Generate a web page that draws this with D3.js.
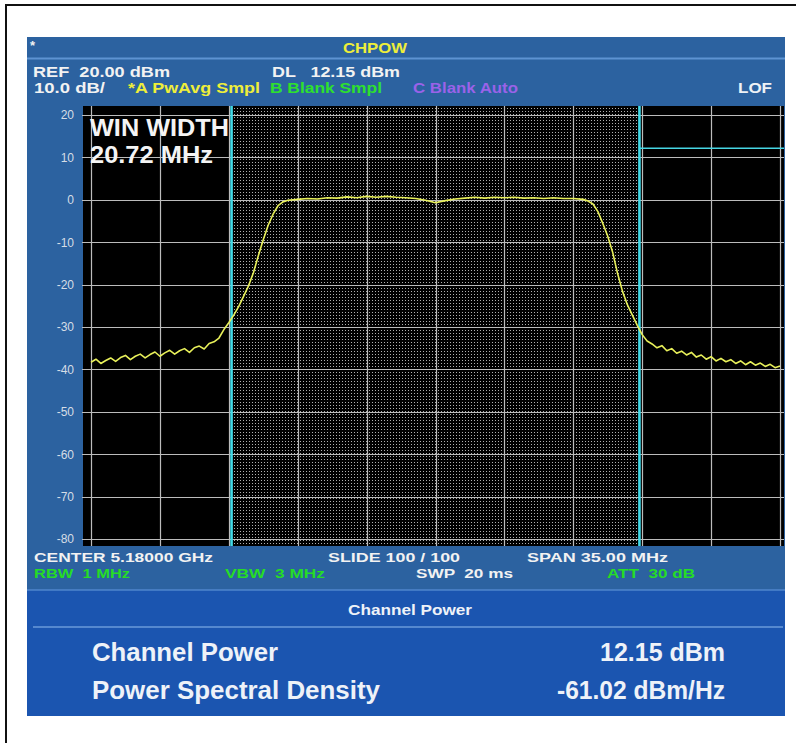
<!DOCTYPE html>
<html>
<head>
<meta charset="utf-8">
<script src="https://cdn.jsdelivr.net/npm/d3@7"></script>
<style>
  body { margin: 0; background: #fff; }
  text { font-family: "Liberation Sans", Arial, sans-serif; font-weight: bold; white-space: pre; }
</style>
</head>
<body>
<div id="chart"></div>
<script>
/* ---------- data ---------- */
const yTicks = [20, 10, 0, -10, -20, -30, -40, -50, -60, -70, -80]
const freqTicks = [-17.5, -14, -10.5, -7, -3.5, 0, 3.5, 7, 10.5, 14, 17.5]   // MHz from centre
const winEdges = [-10.36, 10.36]     // 20.72 MHz window
const dlLevel = 12.15

const traceFreq = [
  -17.5, -17.25, -17, -16.75, -16.5, -16.25, -16, -15.75, -15.5, -15.25,
  -15, -14.75, -14.5, -14.25, -14, -13.75, -13.5, -13.25, -13, -12.75,
  -12.5, -12.25, -12, -11.75, -11.5, -11.25, -11, -10.75, -10.5, -10.25,
  -10, -9.75, -9.5, -9.25, -9, -8.75, -8.5, -8.25, -8, -7.75, -7.5,
  -7, -6.5, -6, -5.5, -5, -4.5, -4, -3.5, -3, -2.5, -2, -1.5, -1, -0.5, 0,
  0.5, 1, 1.5, 2, 2.5, 3, 3.5, 4, 4.5, 5, 5.5, 6, 6.5, 7,
  7.5, 7.75, 8, 8.25, 8.5, 8.75, 9, 9.25, 9.5, 9.75,
  10, 10.25, 10.5, 10.75, 11, 11.25, 11.5, 11.75, 12, 12.25,
  12.5, 12.75, 13, 13.25, 13.5, 13.75, 14, 14.25, 14.5, 14.75,
  15, 15.25, 15.5, 15.75, 16, 16.25, 16.5, 16.75, 17, 17.25, 17.5
]
const traceLevel = [
  -38.3, -37.6, -38.6, -37.9, -37.3, -38.1, -37.2, -36.7, -37.7, -36.9,
  -36.4, -37.3, -36.5, -35.9, -36.9, -36.1, -35.5, -36.4, -35.6, -35.1,
  -36.0, -34.9, -34.5, -35.2, -33.9, -33.5, -32.6, -30.6, -29.0, -27.2,
  -25.2, -22.8, -20.3, -17.2, -13.2, -9.4, -6.0, -3.4, -1.4, -0.5, -0.1,
  0.1, 0.3, 0.2, 0.5, 0.4, 0.7, 0.5, 0.8, 0.6, 0.8, 0.6, 0.5, 0.3, -0.1, -0.7,
  -0.2, 0.2, 0.4, 0.6, 0.4, 0.6, 0.5, 0.6, 0.4, 0.5, 0.3, 0.5, 0.3, 0.3,
  0.1, -0.3, -1.0, -2.8, -5.6, -8.6, -12.4, -17.4, -21.6, -24.8,
  -27.2, -29.6, -31.8, -33.3, -34.0, -34.9, -34.4, -35.6, -35.1, -36.2,
  -35.7, -36.6, -36.0, -37.1, -36.6, -37.6, -37.0, -38.0, -37.4, -38.2,
  -37.7, -38.6, -38.0, -38.9, -38.2, -39.0, -38.5, -39.3, -38.8, -39.6, -39.2
]

const headerLine1 = [["REF  20.00 dBm", 33, 137, "#f2f2f2"], ["DL   12.15 dBm", 272, 128, "#f2f2f2"]]
const headerLine2 = [["10.0 dB/", 34, 71, "#f2f2f2"], ["*A PwAvg Smpl", 128, 132, "#eeee3a"],
                     ["B Blank Smpl", 270, 112, "#2ee02e"], ["C Blank Auto", 413, 105, "#9a62e8"],
                     ["LOF", 738, 34, "#eef2f6"]]
const footerLine1 = [["CENTER 5.18000 GHz", 34, 179, "#f2f2f2"], ["SLIDE 100 / 100", 328, 132, "#f2f2f2"],
                     ["SPAN 35.00 MHz", 527, 141, "#f2f2f2"]]
const footerLine2 = [["RBW  1 MHz", 34, 96, "#26dc26"], ["VBW  3 MHz", 225, 100, "#26dc26"],
                     ["SWP  20 ms", 416, 97, "#f2f2f2"], ["ATT  30 dB", 607, 88, "#26dc26"]]
const results = [["Channel Power", "12.15 dBm"], ["Power Spectral Density", "-61.02 dBm/Hz"]]

/* ---------- layout ---------- */
const W = 796, H = 743
const plot = { left: 83, right: 784, top: 106, bottom: 546 }

const svg = d3.select("#chart").append("svg")
    .attr("width", W).attr("height", H)

svg.append("rect").attr("width", W).attr("height", H).attr("fill", "#fff")
// outer frame
svg.append("path").attr("d", "M6,743 V5 H796")
    .attr("fill", "none").attr("stroke", "#111").attr("stroke-width", 2)

// instrument screen
svg.append("rect").attr("x", 27).attr("y", 37).attr("width", 758).attr("height", 553)
    .attr("fill", "#2c62a0")
svg.append("line").attr("x1", 27).attr("x2", 785).attr("y1", 58.5).attr("y2", 58.5)
    .attr("stroke", "#5d93d2").attr("stroke-width", 2)

// bottom result panel
svg.append("rect").attr("x", 27).attr("y", 590).attr("width", 758).attr("height", 126)
    .attr("fill", "#1b55b0")
svg.append("line").attr("x1", 27).attr("x2", 785).attr("y1", 590).attr("y2", 590)
    .attr("stroke", "#4f86cc").attr("stroke-width", 1.5)
svg.append("line").attr("x1", 33).attr("x2", 783).attr("y1", 627).attr("y2", 627)
    .attr("stroke", "#6a9ada").attr("stroke-width", 1.5)

let txt = function (s, x, y, size, fill, width, anchor) {
  let t = svg.append("text").text(s)
      .attr("x", x).attr("y", y)
      .attr("xml:space", "preserve")
      .attr("font-size", size).attr("fill", fill)
      .attr("text-anchor", anchor || "start")
  if (width) t.attr("textLength", width).attr("lengthAdjust", "spacingAndGlyphs")
  return t
}

txt("*", 30, 50, 13, "#f2f2f2")
txt("CHPOW", 343, 53, 14.5, "#eeee3a", 64)
headerLine1.forEach(d => txt(d[0], d[1], 77, 14.5, d[3], d[2]))
headerLine2.forEach(d => txt(d[0], d[1], 93, 14.5, d[3], d[2]))
footerLine1.forEach(d => txt(d[0], d[1], 562, 13.5, d[3], d[2]))
footerLine2.forEach(d => txt(d[0], d[1], 578, 13.5, d[3], d[2]))

txt("Channel Power", 348, 615, 14, "#eef2f8", 124)
txt(results[0][0], 92, 661, 26, "#eef2f8", 186)
txt(results[1][0], 92, 699, 26, "#eef2f8", 288)
txt(results[0][1], 725, 661, 26, "#eef2f8", 125, "end")
txt(results[1][1], 725, 699, 26, "#eef2f8", 168, "end")

/* ---------- scales ---------- */
const x = d3.scaleLinear().domain([-17.5, 17.5]).range([91, 780])
const y = d3.scaleLinear().domain([-80, 20]).range([539, 115])

// plot background
svg.append("rect").attr("x", plot.left).attr("y", plot.top)
    .attr("width", plot.right - plot.left).attr("height", plot.bottom - plot.top)
    .attr("fill", "#000")

// dotted channel window
let defs = svg.append("defs")
let pat = defs.append("pattern").attr("id", "dots")
    .attr("width", 3).attr("height", 3).attr("patternUnits", "userSpaceOnUse")
pat.append("rect").attr("width", 1).attr("height", 1).attr("fill", "#b0b0b0")
defs.append("clipPath").attr("id", "clip").append("rect")
    .attr("x", plot.left).attr("y", plot.top)
    .attr("width", plot.right - plot.left).attr("height", plot.bottom - plot.top)

svg.append("rect").attr("x", x(winEdges[0])).attr("y", plot.top)
    .attr("width", x(winEdges[1]) - x(winEdges[0])).attr("height", plot.bottom - plot.top)
    .attr("fill", "url(#dots)")

// grid
svg.append("g").selectAll("line").data(yTicks).enter().append("line")
    .attr("x1", plot.left - 1).attr("x2", plot.right)
    .attr("y1", d => Math.round(y(d)) + 0.5).attr("y2", d => Math.round(y(d)) + 0.5)
    .attr("stroke", "#bcbcbc").attr("stroke-width", 1.2)
svg.append("g").selectAll("line").data(freqTicks).enter().append("line")
    .attr("y1", plot.top).attr("y2", plot.bottom)
    .attr("x1", d => Math.round(x(d)) + 0.5).attr("x2", d => Math.round(x(d)) + 0.5)
    .attr("stroke", "#bcbcbc").attr("stroke-width", 1.2)

// y axis labels
let yAxis = svg.append("g").attr("transform", "translate(74,0)")
    .call(d3.axisLeft(y).tickValues(yTicks).tickSize(0).tickPadding(0).tickFormat(d => d))
yAxis.select(".domain").remove()
yAxis.selectAll("text")
    .attr("font-size", 12).attr("fill", "#d6dde6")
    .style("font-family", "'Liberation Sans', Arial, sans-serif").style("font-weight", "normal")

// display line (DL) and window edges
svg.append("line").attr("x1", x(winEdges[1])).attr("x2", plot.right)
    .attr("y1", y(dlLevel)).attr("y2", y(dlLevel))
    .attr("stroke", "#46d6e4").attr("stroke-width", 1.6)
svg.append("g").selectAll("line").data(winEdges).enter().append("line")
    .attr("x1", d => x(d)).attr("x2", d => x(d))
    .attr("y1", plot.top).attr("y2", plot.bottom)
    .attr("stroke", "#42dae8").attr("stroke-width", 2.6)

// trace
let pts = traceFreq.map((f, i) => [f, traceLevel[i]])
svg.append("path").datum(pts)
    .attr("clip-path", "url(#clip)")
    .attr("d", d3.line().x(d => x(d[0])).y(d => y(d[1])))
    .attr("fill", "none").attr("stroke", "#e8f05a").attr("stroke-width", 1.6)
    .attr("stroke-linejoin", "round")

// window width annotation
txt("WIN WIDTH", 90, 136, 23, "#f4f4f4", 139)
txt("20.72 MHz", 90, 163, 23, "#f4f4f4", 123)
</script>
</body>
</html>
